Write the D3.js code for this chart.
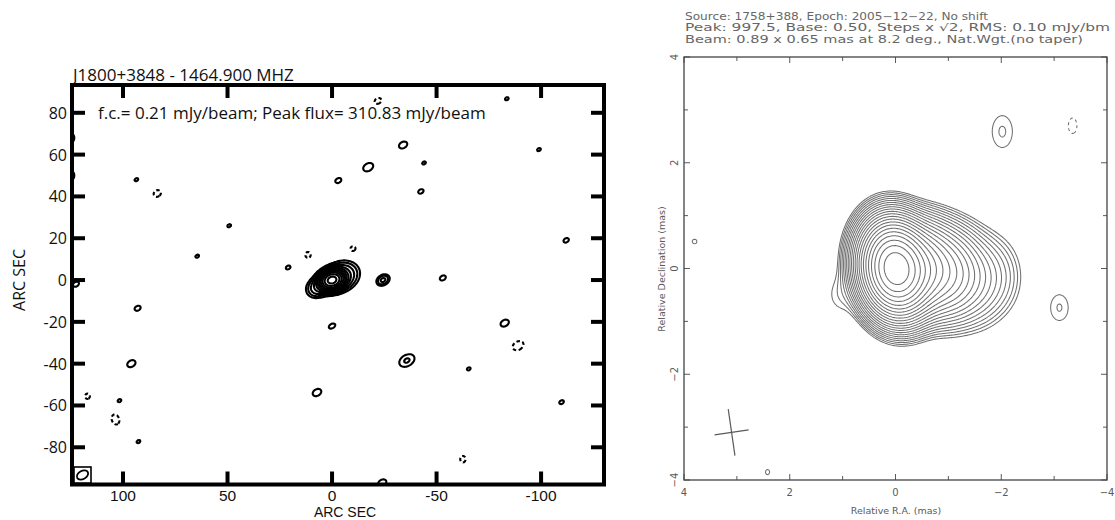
<!DOCTYPE html>
<html><head><meta charset="utf-8">
<script src="https://cdn.jsdelivr.net/npm/d3@7"></script>
<style>
  body { margin: 0; background: #fff; }
  svg { display: block; }
</style>
</head>
<body>
<svg id="chart" width="1115" height="520"></svg>
<script>
// ================= Left map: VLA 1464.9 MHz field of J1800+3848 =================
const leftTitle = "J1800+3848 - 1464.900 MHZ";
const leftNote = "f.c.= 0.21 mJy/beam; Peak flux= 310.83 mJy/beam";
const leftAxisLabel = "ARC SEC";
const leftFirstContour = 0.21;          // mJy/beam
const leftPeak = 310.83;                // mJy/beam
const leftPosSteps = [1, 2, 4, 8, 16, 32, 64, 128, 256, 512, 1024];
const leftNegSteps = [-1];
const leftXTicks = [100, 50, 0, -50, -100];
const leftYTicks = [80, 60, 40, 20, 0, -20, -40, -60, -80];
const leftXDomain = [124.4, -130.1];    // arcsec, RA increases to the left
const leftYDomain = [-97.8, 93.3];
const leftBeam = [5.8, 3.9, -60];       // FWHM major, minor (arcsec), PA (deg)

// Emission components: offsets (arcsec), peak (mJy/beam), gaussian sigmas (arcsec), PA (deg)
const leftCompX   = [0, -4, 6, -24.4, -53, 93, 96, 101.7, 92.6, 7.2, 0, -82.6, -35.8, -65.4, -109.8, -24, -34, -17.3, -44, -99, -3, -42.5, -112, -83.6, 93.6, 49.2, 64.5, 21, 124.8, 124.8, 122.5,
                     83.6, 11.5, -10, -22, 117, 103.6, -89, -62.6];
const leftCompY   = [0, 1.5, -3, 0, 1, -13.5, -40, -57.7, -77.3, -53.8, -22, -20.6, -38.5, -42.5, -58.4, -97, 64.6, 54, 56, 62.4, 47.6, 42.4, 19, 86.7, 48, 26, 11.4, 6, 68, 50, -2,
                     41.4, 12, 15, 85.7, -55.6, -66.7, -31.4, -85.7];
const leftCompAmp = [300, 3, 2, 1.0, 0.25, 0.25, 0.3, 0.22, 0.22, 0.31, 0.26, 0.3, 0.45, 0.22, 0.23, 0.3, 0.3, 0.33, 0.22, 0.22, 0.25, 0.24, 0.24, 0.22, 0.22, 0.22, 0.22, 0.23, 0.3, 0.3, 0.25,
                     -0.27, -0.25, -0.24, -0.26, -0.24, -0.3, -0.33, -0.25];
const leftCompMaj = [2.45, 4.2, 3.2, 1.9, 2.4, 2.4, 2.4, 2.4, 2.4, 2.4, 2.4, 2.4, 3.1, 2.4, 2.4, 2.4, 2.4, 2.6, 2.4, 2.4, 2.4, 2.4, 2.4, 2.4, 2.4, 2.4, 2.4, 2.4, 2.4, 2.4, 2.4,
                     2.4, 2.2, 2.2, 2.4, 2.2, 2.8, 2.8, 2.4];
const leftCompMin = [1.85, 3.2, 2.4, 1.4, 1.7, 1.7, 1.7, 1.7, 1.7, 1.7, 1.5, 1.7, 2.1, 1.7, 1.7, 1.7, 1.7, 1.8, 1.7, 1.7, 1.7, 1.7, 1.7, 1.7, 1.7, 1.7, 1.7, 1.7, 1.7, 1.7, 1.7,
                     2.0, 2.0, 2.0, 1.9, 2.0, 2.0, 2.0, 2.0];
const leftCompPA  = [-72, -65, -60, -60, -60, -60, -60, -60, -60, -60, -60, -60, -60, -60, -60, -60, -60, -60, -60, -60, -60, -60, -60, -60, -60, -60, -60, -60, 0, 0, -60,
                     -60, 0, -60, -60, 0, 20, -60, 0];

// ================= Right map: VLBA image of 1758+388 =================
const rightHeader = [
  "Source: 1758+388, Epoch: 2005\u221212\u221222, No shift",
  "Peak: 997.5, Base: 0.50, Steps x \u221A2,  RMS: 0.10 mJy/bm",
  "Beam: 0.89 x 0.65 mas at 8.2 deg., Nat.Wgt.(no taper)"
];
const rightPeak = 997.5;                // mJy/beam
const rightBase = 0.50;                 // mJy/beam
const rightStepCount = 22;              // levels base * sqrt(2)^k, k = 0..21
const rightXLabel = "Relative R.A. (mas)";
const rightYLabel = "Relative Declination (mas)";
const rightMajorTicks = [4, 2, 0, -2, -4];
const rightMinorTicks = [3, 1, -1, -3];
const rightTickText = ["4", "2", "0", "\u22122", "\u22124"];
const rightBeam = [0.89, 0.65, 8.2];    // FWHM major, minor (mas), PA (deg)
const rightBeamCentre = [3.1, -3.1];

const rightCompX   = [0, -0.5, -1.0, -1.5, -1.95, 1.05, -2.02, -3.1, -3.35, 3.8, 2.42];
const rightCompY   = [0, 0, -0.1, -0.2, -0.15, -0.5, 2.59, -0.74, 2.7, 0.51, -3.85];
const rightCompAmp = [940, 120, 35, 6, 1.2, 0.6, 0.72, 0.71, -0.6, 0.52, 0.55];
const rightCompMaj = [0.378, 0.38, 0.4, 0.42, 0.42, 0.3, 0.34, 0.28, 0.225, 0.12, 0.1];
const rightCompMin = [0.276, 0.3, 0.3, 0.3, 0.28, 0.22, 0.215, 0.19, 0.125, 0.12, 0.08];
const rightCompPA  = [8.2, 0, 0, 0, 0, 0, 0, 0, 0, 0, 0];

// ---------------------------------------------------------------------------------
const svg = d3.select("#chart");

// Sample a sum of elliptical gaussians on a regular grid (top row first).
function sampleField(xStart, xEnd, yStart, yEnd, step, cx, cy, amp, smaj, smin, pa) {
  const sx = xEnd > xStart ? step : -step;
  const nx = Math.floor(Math.abs(xEnd - xStart) / step) + 1;
  const ny = Math.floor(Math.abs(yStart - yEnd) / step) + 1;
  const values = new Float64Array(nx * ny);
  for (let k = 0; k < cx.length; k++) {
    const th = pa[k] * Math.PI / 180, s = Math.sin(th), c = Math.cos(th);
    const reach = 6 * smaj[k];
    const i0 = Math.max(0, Math.floor(((cx[k] + (sx > 0 ? -reach : reach)) - xStart) / sx));
    const i1 = Math.min(nx - 1, Math.ceil(((cx[k] + (sx > 0 ? reach : -reach)) - xStart) / sx));
    const j0 = Math.max(0, Math.floor((yStart - (cy[k] + reach)) / step));
    const j1 = Math.min(ny - 1, Math.ceil((yStart - (cy[k] - reach)) / step));
    for (let j = j0; j <= j1; j++) {
      const dy = (yStart - j * step) - cy[k];
      for (let i = i0; i <= i1; i++) {
        const dx = (xStart + i * sx) - cx[k];
        const u = dx * s + dy * c;     // along major axis (PA from north through east)
        const v = dx * c - dy * s;
        values[j * nx + i] += amp[k] * Math.exp(-0.5 * (u * u / (smaj[k] * smaj[k]) + v * v / (smin[k] * smin[k])));
      }
    }
  }
  return { values, nx, ny, sx, step, xStart, yStart };
}

function gridPath(field, xs, ys) {
  return d3.geoPath(d3.geoTransform({
    point(cx, cy) {
      this.stream.point(xs(field.xStart + (cx - 0.5) * field.sx), ys(field.yStart - (cy - 0.5) * field.step));
    }
  }));
}

// ================= LEFT PANEL =================
{
  const x = d3.scaleLinear().domain(leftXDomain).range([72, 604]);
  const y = d3.scaleLinear().domain(leftYDomain).range([484.5, 85]);
  const font = "'Open Sans', 'Noto Sans', sans-serif";
  const compact = "'Liberation Sans', Arial, sans-serif";

  svg.append("clipPath").attr("id", "clipL")
    .append("rect").attr("x", 72).attr("y", 85).attr("width", 532).attr("height", 399.5);

  const field = sampleField(leftXDomain[0] + 6, leftXDomain[1] - 6, leftYDomain[1] + 6, leftYDomain[0] - 6, 0.5,
    leftCompX, leftCompY, leftCompAmp, leftCompMaj, leftCompMin, leftCompPA);
  const mx = d3.max(field.values);
  for (let i = 0; i < field.values.length; i++) field.values[i] *= leftPeak / mx;

  const path = gridPath(field, x, y);
  const posLevels = leftPosSteps.map(s => s * leftFirstContour);
  const negLevels = leftNegSteps.map(s => s * leftFirstContour);

  const g = svg.append("g").attr("clip-path", "url(#clipL)");
  g.selectAll("path.pos")
    .data(d3.contours().size([field.nx, field.ny]).thresholds(posLevels)(field.values))
    .join("path").attr("class", "pos").attr("d", path)
    .attr("fill", "none").attr("stroke", "#000").attr("stroke-width", 2.1);
  // negative contours: threshold on the sign-flipped field, drawn dashed
  const neg = field.values.map(v => -v);
  g.selectAll("path.neg")
    .data(d3.contours().size([field.nx, field.ny]).thresholds(negLevels.map(v => -v))(neg))
    .join("path").attr("class", "neg").attr("d", path)
    .attr("fill", "none").attr("stroke", "#000").attr("stroke-width", 2.1)
    .attr("stroke-dasharray", "3.5,2.5");

  // frame and ticks on all four sides, pointing inward
  const tl = 13;
  const ticks = svg.append("g").attr("stroke", "#000").attr("stroke-width", 4);
  leftXTicks.forEach(v => {
    ticks.append("line").attr("x1", x(v)).attr("x2", x(v)).attr("y1", 484.5).attr("y2", 484.5 - tl);
    ticks.append("line").attr("x1", x(v)).attr("x2", x(v)).attr("y1", 85).attr("y2", 85 + tl);
  });
  leftYTicks.forEach(v => {
    ticks.append("line").attr("x1", 72).attr("x2", 72 + tl).attr("y1", y(v)).attr("y2", y(v));
    ticks.append("line").attr("x1", 604).attr("x2", 604 - tl).attr("y1", y(v)).attr("y2", y(v));
  });
  svg.append("rect").attr("x", 72).attr("y", 85).attr("width", 532).attr("height", 399.5)
    .attr("fill", "none").attr("stroke", "#000").attr("stroke-width", 4);

  // beam in the lower-left corner
  const bx = 82.5, by = 475;
  svg.append("rect").attr("x", bx - 8.5).attr("y", by - 8).attr("width", 17).attr("height", 16)
    .attr("fill", "#fff").attr("stroke", "#000").attr("stroke-width", 1.6);
  const bpa = leftBeam[2] * Math.PI / 180;
  const bAng = Math.atan2(-Math.cos(bpa), -Math.sin(bpa)) * 180 / Math.PI;
  svg.append("ellipse").attr("cx", bx).attr("cy", by)
    .attr("rx", Math.abs(x(leftBeam[0] / 2) - x(0))).attr("ry", Math.abs(y(leftBeam[1] / 2) - y(0)))
    .attr("transform", `rotate(${bAng},${bx},${by})`)
    .attr("fill", "none").attr("stroke", "#000").attr("stroke-width", 1.8);

  // text
  const t = svg.append("g").attr("font-family", font).attr("fill", "#111");
  t.selectAll("text.xt").data(leftXTicks).join("text").attr("class", "xt")
    .attr("x", d => x(d)).attr("y", 500.5).attr("text-anchor", "middle").attr("font-size", 15.5)
    .attr("font-family", compact).text(d => String(d));
  t.selectAll("text.yt").data(leftYTicks).join("text").attr("class", "yt")
    .attr("x", 67).attr("y", d => y(d) + 6).attr("text-anchor", "end").attr("font-size", 16)
    .text(d => String(d));
  t.append("text").attr("x", 345).attr("y", 516.6).attr("text-anchor", "middle").attr("font-size", 14)
    .attr("font-family", compact).text(leftAxisLabel);
  t.append("text").attr("transform", "translate(25,280) rotate(-90)").attr("text-anchor", "middle")
    .attr("font-size", 16).text(leftAxisLabel);
  t.append("text").attr("x", 73).attr("y", 81).attr("font-size", 17).text(leftTitle);
  t.append("text").attr("x", 98).attr("y", 119).attr("font-size", 17).text(leftNote);
}

// ================= RIGHT PANEL =================
{
  const x = d3.scaleLinear().domain([4, -4]).range([684, 1107]);
  const y = d3.scaleLinear().domain([-4, 4]).range([480, 57]);
  const font = "'DejaVu Sans', sans-serif";
  const grey = "#5a5a5a";

  svg.append("clipPath").attr("id", "clipR")
    .append("rect").attr("x", 684).attr("y", 57).attr("width", 423).attr("height", 423);

  const field = sampleField(4.2, -4.2, 4.2, -4.2, 0.02,
    rightCompX, rightCompY, rightCompAmp, rightCompMaj, rightCompMin, rightCompPA);
  const mx = d3.max(field.values);
  for (let i = 0; i < field.values.length; i++) field.values[i] *= rightPeak / mx;
  const path = gridPath(field, x, y);
  const levels = d3.range(rightStepCount).map(k => rightBase * Math.pow(Math.SQRT2, k));

  const g = svg.append("g").attr("clip-path", "url(#clipR)");
  g.selectAll("path.pos")
    .data(d3.contours().size([field.nx, field.ny]).thresholds(levels)(field.values))
    .join("path").attr("class", "pos").attr("d", path)
    .attr("fill", "none").attr("stroke", "#707070").attr("stroke-width", 1.05);
  const neg = field.values.map(v => -v);
  g.selectAll("path.neg")
    .data(d3.contours().size([field.nx, field.ny]).thresholds([rightBase])(neg))
    .join("path").attr("class", "neg").attr("d", path)
    .attr("fill", "none").attr("stroke", "#707070").attr("stroke-width", 1.05)
    .attr("stroke-dasharray", "3,3");

  // beam cross
  const [bMaj, bMin, bPA] = rightBeam;
  const th = bPA * Math.PI / 180;
  const [cxB, cyB] = rightBeamCentre;
  const cross = svg.append("g").attr("stroke", grey).attr("stroke-width", 1.2);
  cross.append("line")
    .attr("x1", x(cxB + bMaj / 2 * Math.sin(th))).attr("y1", y(cyB + bMaj / 2 * Math.cos(th)))
    .attr("x2", x(cxB - bMaj / 2 * Math.sin(th))).attr("y2", y(cyB - bMaj / 2 * Math.cos(th)));
  cross.append("line")
    .attr("x1", x(cxB + bMin / 2 * Math.cos(th))).attr("y1", y(cyB - bMin / 2 * Math.sin(th)))
    .attr("x2", x(cxB - bMin / 2 * Math.cos(th))).attr("y2", y(cyB + bMin / 2 * Math.sin(th)));

  // frame and ticks
  const tk = svg.append("g").attr("stroke", grey).attr("stroke-width", 1);
  const addTicks = (vals, len) => vals.forEach(v => {
    tk.append("line").attr("x1", x(v)).attr("x2", x(v)).attr("y1", 480).attr("y2", 480 - len);
    tk.append("line").attr("x1", x(v)).attr("x2", x(v)).attr("y1", 57).attr("y2", 57 + len);
    tk.append("line").attr("x1", 684).attr("x2", 684 + len).attr("y1", y(v)).attr("y2", y(v));
    tk.append("line").attr("x1", 1107).attr("x2", 1107 - len).attr("y1", y(v)).attr("y2", y(v));
  });
  addTicks(rightMajorTicks, 6);
  addTicks(rightMinorTicks, 4);
  svg.append("rect").attr("x", 684).attr("y", 57).attr("width", 423).attr("height", 423)
    .attr("fill", "none").attr("stroke", "#444").attr("stroke-width", 1.3);

  const t = svg.append("g").attr("font-family", font).attr("fill", grey);
  t.selectAll("text.xt").data(rightMajorTicks).join("text").attr("class", "xt")
    .attr("x", d => x(d)).attr("y", 496).attr("text-anchor", "middle").attr("font-size", 10)
    .text((d, i) => rightTickText[i]);
  t.selectAll("text.yt").data(rightMajorTicks).join("text").attr("class", "yt")
    .attr("transform", d => `translate(678,${y(d)}) rotate(-90)`).attr("text-anchor", "middle")
    .attr("font-size", 10).text((d, i) => rightTickText[i]);
  t.append("text").attr("x", 896).attr("y", 514).attr("text-anchor", "middle").attr("font-size", 9.5)
    .text(rightXLabel);
  t.append("text").attr("transform", "translate(665,269) rotate(-90)").attr("text-anchor", "middle")
    .attr("font-size", 9.5).text(rightYLabel);
  const hdrWidths = [303, 425, 398];
  rightHeader.forEach((line, i) => {
    t.append("text").attr("x", 685).attr("y", 19.5 + i * 11.5).attr("font-size", 9.8)
      .attr("fill", "#666")
      .attr("textLength", hdrWidths[i]).attr("lengthAdjust", "spacingAndGlyphs").text(line);
  });
}
</script>
</body></html>
